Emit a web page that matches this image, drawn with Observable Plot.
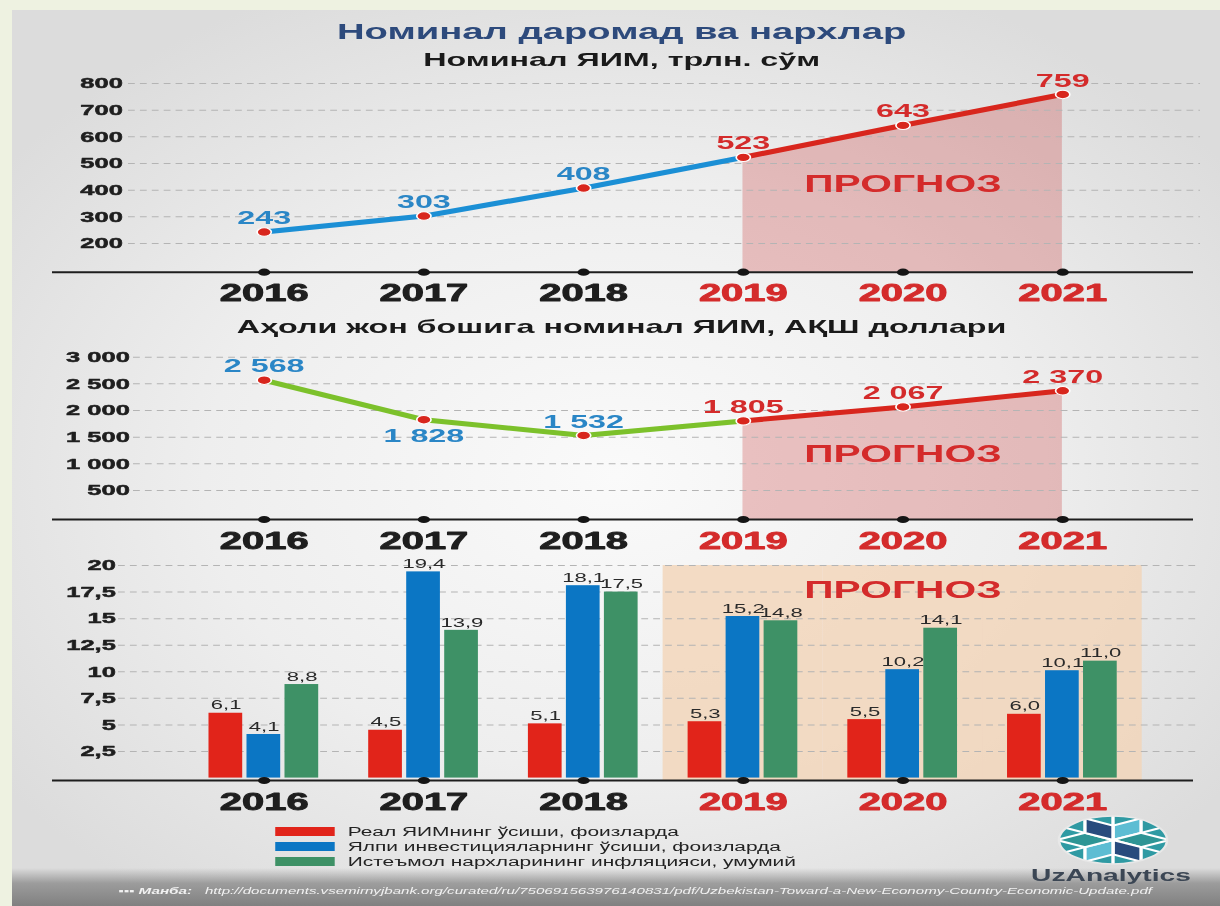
<!DOCTYPE html>
<html>
<head>
<meta charset="utf-8">
<script src="https://cdn.jsdelivr.net/npm/d3@7"></script>
<script src="https://cdn.jsdelivr.net/npm/@observablehq/plot@0.6"></script>
<style>
html, body { margin: 0; padding: 0; }
body { width: 1220px; height: 906px; position: relative; overflow: hidden; background: #eef2e1; font-family: "Liberation Sans", Arial, sans-serif; }
#panel { position: absolute; left: 12px; top: 10px; width: 1208px; height: 896px;
  background: radial-gradient(ellipse 62% 60% at 50% 52%, #fafafa 0%, #eeeeee 55%, #dcdcdc 100%); }
#footerbg { position: absolute; left: 12px; top: 868px; width: 1208px; height: 38px;
  background: linear-gradient(rgba(150,150,150,0) 0%, rgba(140,140,140,0.8) 40%, #808080 100%); }
#stretch { position: absolute; left: 0; top: 0; width: 718px; height: 906px; transform: scaleX(1.699); transform-origin: 0 0; }
.ttl { position: absolute; left: 0; width: 731.8px; text-align: center; font-weight: bold; white-space: nowrap; }
.chart { position: absolute; left: 0; }
.chart svg { overflow: visible; }
.leg { position: absolute; left: 162.4px; top: 824px; font-size: 12.3px; color: #222; }
.leg .row { height: 15px; display: flex; align-items: center; }
.leg .sw { width: 34.7px; height: 9px; margin-right: 7.6px; }
</style>
</head>
<body>
<div id="panel"></div>
<div id="footerbg"></div>
<div id="stretch">
  <div class="ttl" style="top:18px;font-size:22.5px;line-height:28px;color:#2d4a7c;">Номинал даромад ва нархлар</div>
  <div class="ttl" style="top:48px;font-size:19px;line-height:24px;color:#1a1a1a;">Номинал ЯИМ, трлн. сўм</div>
  <div class="ttl" style="top:315px;font-size:19px;line-height:24px;color:#1a1a1a;">Аҳоли жон бошига номинал ЯИМ, АҚШ доллари</div>
  <div id="c1" class="chart"></div>
  <div id="c2" class="chart"></div>
  <div id="c3" class="chart"></div>
  <div id="legend" class="leg"></div>
  <div id="logo" style="position:absolute;left:0;top:0;"></div>
</div>
<script>
// ---------------- DATA ----------------
const years = [2016, 2017, 2018, 2019, 2020, 2021];
const forecastYears = [2019, 2020, 2021];
const gdp = [243, 303, 408, 523, 643, 759];
const gdpTicks = [200, 300, 400, 500, 600, 700, 800];
const gdpPerCapita = [2568, 1828, 1532, 1805, 2067, 2370];
const perCapitaTicks = [500, 1000, 1500, 2000, 2500, 3000];
const realGdpGrowth = [6.1, 4.5, 5.1, 5.3, 5.5, 6.0];
const investmentGrowth = [4.1, 19.4, 18.1, 15.2, 10.2, 10.1];
const cpiInflation = [8.8, 13.9, 17.5, 14.8, 14.1, 11.0];
const barTicks = [2.5, 5, 7.5, 10, 12.5, 15, 17.5, 20];
const seriesNames = [
  "Реал ЯИМнинг ўсиши, фоизларда",
  "Ялпи инвестицияларнинг ўсиши, фоизларда",
  "Истеъмол нархларининг инфляцияси, умумий"
];
const forecastLabel = "ПРОГНОЗ";
const sourceLabel = "▪▪▪ Манба:";
const sourceUrl = "http://documents.vsemirnyjbank.org/curated/ru/750691563976140831/pdf/Uzbekistan-Toward-a-New-Economy-Country-Economic-Update.pdf";
const brand = "UzAnalytics";

// ---------------- STYLE ----------------
const SX = 1.699, W = 718;
const nx = v => v / SX;             // final px -> pre-stretch px
const FONT = "Liberation Sans, Arial, sans-serif";
const RED = "#d8261d", LBL_BLUE = "#2a86c6", DARK = "#1e1e1e", YEAR_RED = "#d42b2b";
const seriesColors = ["#e1241a", "#0b76c4", "#3e9166"];
const fmtSpace = v => d3.format(",")(v).replace(/,/g, " ");
const fmtTick = v => Number.isInteger(v) ? String(v) : String(v).replace(".", ",");
const fmtDec = v => v.toFixed(1).replace(".", ",");
const isFc = y => forecastYears.includes(y);

function commonMarks({ticks, fmt, gridStart, labelRight}) {
  return [
    Plot.ruleY(ticks, {y: d => d, stroke: "#b4b4b4", strokeWidth: 1, strokeDasharray: "4,3",
      insetLeft: nx(gridStart - 52), insetRight: -nx(1200 - 1193)}),
    Plot.text(ticks, {y: d => d, text: fmt, frameAnchor: "left", textAnchor: "end",
      dx: nx(labelRight - 52), fill: DARK, stroke: DARK, strokeWidth: 0.5,
      fontSize: 15, fontWeight: "bold", fontFamily: FONT})
  ];
}
function axisMarks(base, x = d => d) {
  return [
    Plot.ruleY([base], {y: d => d, stroke: "#1e1e1e", strokeWidth: 2}),
    Plot.dot(years, {x, y: () => base, r: 3.6, fill: "#151515"}),
    Plot.text(years.filter(y => !isFc(y)), {x, y: () => base, dy: 21.5, text: d => String(d),
      fill: DARK, stroke: DARK, strokeWidth: 0.9, fontSize: 23.5, fontWeight: "bold", fontFamily: FONT}),
    Plot.text(years.filter(isFc), {x, y: () => base, dy: 21.5, text: d => String(d),
      fill: YEAR_RED, stroke: YEAR_RED, strokeWidth: 0.9, fontSize: 23.5, fontWeight: "bold", fontFamily: FONT})
  ];
}
function forecastText(dy) {
  return Plot.text([forecastLabel], {x: () => forecastYears[1], frameAnchor: "top", lineAnchor: "middle", dy,
    text: d => d, fill: YEAR_RED, fontSize: 24, fontWeight: "bold", fontFamily: FONT});
}

function lineChart({values, ticks, fmt, top, height, tickPix, axisPix, histColor, gridStart, labelRight, fcDy, belowYears = []}) {
  const yDomain = [ticks[0], ticks[ticks.length - 1]];
  const yRange = [tickPix[0] - top, tickPix[1] - top];
  const base = d3.scaleLinear(yDomain, yRange).invert(axisPix - top);
  const rows = years.map((year, i) => ({year, value: values[i]}));
  const hist = rows.filter(d => d.year <= forecastYears[0]);
  const fc = rows.filter(d => d.year >= forecastYears[0]);
  const lbl = (filter, dy, fill) => Plot.text(rows.filter(filter), {x: "year", y: "value", dy,
    text: d => fmt(d.value), fill, fontSize: 19, fontWeight: "bold", fontFamily: FONT});
  return Plot.plot({
    width: W, height, marginLeft: nx(52), marginRight: W - nx(1193), marginTop: 0, marginBottom: 0,
    x: {type: "point", domain: years, range: [nx(263), nx(1062)], padding: 0, axis: null},
    y: {domain: yDomain, range: yRange, axis: null},
    style: {background: "transparent", fontFamily: FONT, overflow: "visible"},
    marks: [
      Plot.areaY(fc, {x: "year", y1: () => base, y2: "value", fill: "#c62f2f", fillOpacity: 0.27}),
      ...commonMarks({ticks, fmt, gridStart, labelRight}),
      ...axisMarks(base),
      Plot.line(hist, {x: "year", y: "value", stroke: histColor, strokeWidth: 5}),
      Plot.line(fc, {x: "year", y: "value", stroke: RED, strokeWidth: 5}),
      Plot.dot(rows, {x: "year", y: "value", r: 4.2, fill: RED, stroke: "white", strokeWidth: 1}),
      lbl(d => !isFc(d.year) && !belowYears.includes(d.year), -14, LBL_BLUE),
      lbl(d => !isFc(d.year) && belowYears.includes(d.year), 16, LBL_BLUE),
      lbl(d => isFc(d.year), -14, YEAR_RED),
      forecastText(fcDy)
    ]
  });
}

function mount(id, top, node) {
  const el = document.getElementById(id);
  el.style.top = top + "px";
  el.appendChild(node);
}

// Chart 1: nominal GDP
mount("c1", 68, lineChart({values: gdp, ticks: gdpTicks, fmt: String, top: 68, height: 250,
  tickPix: [243, 83], axisPix: 271.7, histColor: "#1b8fd5", gridStart: 128, labelRight: 122, fcDy: 116}));

// Chart 2: GDP per capita
mount("c2", 335, lineChart({values: gdpPerCapita, ticks: perCapitaTicks, fmt: fmtSpace, top: 335, height: 230,
  tickPix: [490, 356.7], axisPix: 519, histColor: "#7cc12b", gridStart: 133, labelRight: 129, fcDy: 119,
  belowYears: [2017]}));

// Chart 3: growth bars
(function () {
  const top = 548, height = 270;
  const yDomain = [barTicks[0], barTicks[barTicks.length - 1]];
  const yRange = [751 - top, 565 - top];
  const base = d3.scaleLinear(yDomain, yRange).invert(780 - top);
  const series = [realGdpGrowth, investmentGrowth, cpiInflation];
  const band = nx(160), barW = nx(34), inset = (band - barW) / 2;
  const offsets = [-38, 0, 38];
  const barMarks = series.flatMap((vals, s) => {
    const rows = years.map((year, i) => ({year, value: vals[i]}));
    return [
      Plot.barY(rows, {x: "year", y: "value", fill: seriesColors[s], insetLeft: inset, insetRight: inset, dx: nx(offsets[s])}),
      Plot.text(rows, {x: "year", y: "value", dy: -8, dx: nx(offsets[s]), text: d => fmtDec(d.value),
        fill: "#2a2a2a", fontSize: 13, fontFamily: FONT})
    ];
  });
  const chart = Plot.plot({
    width: W, height, marginLeft: nx(52), marginRight: W - nx(1193), marginTop: 0, marginBottom: 0,
    x: {type: "band", domain: years, range: [nx(263 - 80), nx(1062 + 80)], padding: 0, axis: null},
    y: {domain: yDomain, range: yRange, axis: null},
    style: {background: "transparent", fontFamily: FONT, overflow: "visible"},
    marks: [
      Plot.barY(forecastYears, {x: d => d, y1: () => base, y2: () => yDomain[1], fill: "#f3d4b8", fillOpacity: 0.8}),
      ...commonMarks({ticks: barTicks, fmt: fmtTick, gridStart: 118, labelRight: 115}),
      ...barMarks,
      ...axisMarks(base),
      forecastText(42)
    ]
  });
  mount("c3", top, chart);
})();

// Legend
const legend = document.getElementById("legend");
seriesNames.forEach((name, i) => {
  const row = document.createElement("div");
  row.className = "row";
  row.innerHTML = `<span class="sw" style="background:${seriesColors[i]}"></span><span>${name}</span>`;
  legend.appendChild(row);
});

// Logo + brand + source line (decoration)
(function () {
  const svg = d3.create("svg").attr("width", W).attr("height", 906).style("position", "absolute").style("overflow", "visible");
  const cx = nx(1113), cy = 840, rx = nx(54), ry = 24;
  const defs = svg.append("defs");
  defs.append("clipPath").attr("id", "lc").append("ellipse").attr("cx", 0).attr("cy", 0).attr("rx", 1).attr("ry", 1);
  const g = svg.append("g").attr("transform", `translate(${cx},${cy}) scale(${rx},${ry})`);
  const gc = g.append("g").attr("clip-path", "url(#lc)");
  gc.append("ellipse").attr("rx", 1).attr("ry", 1).attr("fill", "#2f9aa3");
  const tileColors = ["#5dbdd3", "#2e9595", "#284b7d", "#5dbdd3", "#2e9595", "#284b7d"];
  const R = 0.6;
  const u = a => [Math.cos(a), Math.sin(a)];
  for (let k = 0; k < 6; k++) {
    const a1 = (-90 + k * 60) * Math.PI / 180, a2 = a1 + Math.PI / 3;
    const p1 = u(a1).map(v => v * R), p2 = u(a2).map(v => v * R);
    const p3 = [p1[0] + p2[0], p1[1] + p2[1]];
    gc.append("path").attr("d", `M0,0L${p1}L${p3}L${p2}Z`).attr("fill", tileColors[k])
      .attr("stroke", "white").attr("stroke-width", 2).attr("vector-effect", "non-scaling-stroke");
    gc.append("path").attr("d", `M${p1}L${p1.map(v => v * 2)}`).attr("stroke", "white").attr("stroke-width", 2)
      .attr("vector-effect", "non-scaling-stroke");
  }
  g.append("ellipse").attr("rx", 1).attr("ry", 1).attr("fill", "none").attr("stroke", "#e8e8e8")
    .attr("stroke-width", 1.5).attr("vector-effect", "non-scaling-stroke");
  svg.append("text").attr("x", nx(1111)).attr("y", 877).attr("text-anchor", "middle").attr("dominant-baseline", "middle")
    .attr("font-family", FONT).attr("font-weight", "bold").attr("font-size", 16.6).attr("fill", "#3b4654").text(brand);
  svg.append("text").attr("x", nx(118)).attr("y", 894).attr("font-family", FONT).attr("font-style", "italic")
    .attr("font-weight", "bold").attr("font-size", 9).attr("fill", "#f2f2f2").text(sourceLabel);
  svg.append("text").attr("x", nx(205)).attr("y", 894).attr("font-family", FONT).attr("font-style", "italic")
    .attr("font-size", 8.6).attr("fill", "#f2f2f2").attr("textLength", nx(1152 - 205))
    .attr("lengthAdjust", "spacingAndGlyphs").text(sourceUrl);
  document.getElementById("logo").appendChild(svg.node());
})();
</script>
</body>
</html>
